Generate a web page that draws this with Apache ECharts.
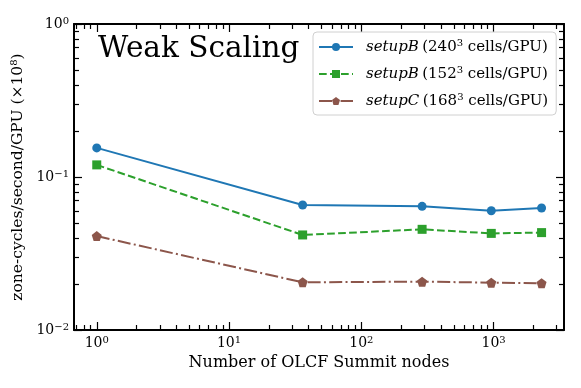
<!DOCTYPE html>
<html>
<head>
<meta charset="utf-8">
<script src="https://cdn.jsdelivr.net/npm/echarts@6/dist/echarts.min.js"></script>
<style>
html, body { margin: 0; padding: 0; background: #fff; }
#main { width: 581px; height: 388px; }
</style>
</head>
<body>
<div id="main"></div>
<script>
// data
var nodes = [1, 36, 288, 960, 2304];
var setupB240 = [0.155, 0.0656, 0.0643, 0.0602, 0.0627];
var setupB152 = [0.120, 0.0418, 0.0455, 0.0428, 0.0433];
var setupC168 = [0.0411, 0.0205, 0.0207, 0.0204, 0.0202];

var xMajor = [1, 10, 100, 1000];
var xMinor = [0.7, 0.8, 0.9, 2, 3, 4, 5, 6, 7, 8, 9, 20, 30, 40, 50, 60, 70, 80, 90,
              200, 300, 400, 500, 600, 700, 800, 900, 2000, 3000];
var yMajor = [0.01, 0.1, 1];
var yMinor = [0.02, 0.03, 0.04, 0.05, 0.06, 0.07, 0.08, 0.09,
              0.2, 0.3, 0.4, 0.5, 0.6, 0.7, 0.8, 0.9];

var serif = 'DejaVu Serif';
var pentagon = 'path://M0,-1L0.951,-0.309L0.588,0.809L-0.588,0.809L-0.951,-0.309Z';

var chart = echarts.init(document.getElementById('main'));

// 10^n labels with superscript exponent
function powLabel(v) {
    var e = Math.round(Math.log10(v));
    return '{b|10}{s|' + (e < 0 ? '\u2212' + (-e) : e) + '}';
}
var labelRich = {
    b: { fontFamily: serif, fontSize: 14, color: '#000' },
    s: { fontFamily: serif, fontSize: 10, color: '#000', verticalAlign: 'top', padding: [0, 0, 6, 0] }
};

// one axis per side and per tick kind (major / minor), all log scale
function axisBase(pos, min, max, major, minor, isMinor, withLabels) {
    return {
        type: 'log',
        logBase: 10,
        position: pos,
        min: min,
        max: max,
        splitLine: { show: false },
        axisLine: { show: !isMinor, onZero: false, lineStyle: { color: '#000', width: 2 } },
        axisTick: {
            show: true,
            inside: true,
            length: isMinor ? 5 : 8,
            customValues: isMinor ? minor : major,
            lineStyle: { color: '#000', width: 1.2 }
        },
        axisLabel: {
            show: withLabels,
            customValues: major,
            formatter: powLabel,
            rich: labelRich,
            margin: 5
        }
    };
}

var xMin = 0.673, xMax = 3404, yMin = 0.01, yMax = 1;
var xAxes = [
    axisBase('bottom', xMin, xMax, xMajor, xMinor, false, true),
    axisBase('bottom', xMin, xMax, xMajor, xMinor, true, false),
    axisBase('top', xMin, xMax, xMajor, xMinor, false, false),
    axisBase('top', xMin, xMax, xMajor, xMinor, true, false)
];
xAxes[0].name = 'Number of OLCF Summit nodes';
xAxes[0].nameLocation = 'middle';
xAxes[0].nameGap = 20;
xAxes[0].nameTextStyle = { fontFamily: serif, fontSize: 16, color: '#000' };

var yAxes = [
    axisBase('left', yMin, yMax, yMajor, yMinor, false, true),
    axisBase('left', yMin, yMax, yMajor, yMinor, true, false),
    axisBase('right', yMin, yMax, yMajor, yMinor, false, false),
    axisBase('right', yMin, yMax, yMajor, yMinor, true, false)
];
yAxes[0].name = '{a|zone-cycles/second/GPU (\u00d710}{s|8}{a|)}';
yAxes[0].nameLocation = 'middle';
yAxes[0].nameGap = 40;
yAxes[0].nameRotate = 90;
yAxes[0].nameTextStyle = {
    rich: {
        a: { fontFamily: serif, fontSize: 15.5, color: '#000' },
        s: { fontFamily: serif, fontSize: 10, color: '#000', verticalAlign: 'top', padding: [0, 0, 6, 0] }
    }
};

function mkSeries(name, data, color, symbol, size, dash) {
    return {
        name: name,
        type: 'line',
        xAxisIndex: 0,
        yAxisIndex: 0,
        data: nodes.map(function (n, i) { return [n, data[i]]; }),
        symbol: symbol,
        symbolSize: size,
        showSymbol: true,
        itemStyle: { color: color },
        lineStyle: { color: color, width: 2, type: dash },
        animation: false
    };
}

var legendRich = {
    i: { fontFamily: serif, fontStyle: 'italic', fontSize: 15, color: '#000', lineHeight: 18 },
    n: { fontFamily: serif, fontSize: 15, color: '#000', lineHeight: 18 },
    sup: { fontFamily: serif, fontSize: 10, color: '#000', verticalAlign: 'top', padding: [0, 0, 6, 0] },
    c: { fontFamily: serif, fontSize: 15, color: '#000', lineHeight: 18 }
};
var legendText = {
    'B240': '{i|setupB} {n|(240}{sup|3}{c| cells/GPU)}',
    'B152': '{i|setupB} {n|(152}{sup|3}{c| cells/GPU)}',
    'C168': '{i|setupC} {n|(168}{sup|3}{c| cells/GPU)}'
};

chart.setOption({
    backgroundColor: '#fff',
    animation: false,
    title: {
        text: 'Weak Scaling',
        left: 93,
        top: 29,
        textStyle: { fontFamily: serif, fontSize: 29.5, fontWeight: 'normal', color: '#000' }
    },
    grid: { left: 74, right: 17, top: 24, bottom: 58 },
    legend: {
        orient: 'vertical',
        left: 313,
        top: 32,
        padding: [6, 8, 5, 5],
        itemWidth: 34,
        itemHeight: 10,
        itemGap: 9,
        backgroundColor: 'rgba(255,255,255,0.8)',
        borderColor: '#d0d0d0',
        borderWidth: 1,
        borderRadius: 4,
        data: ['B240', 'B152', 'C168'],
        formatter: function (n) { return legendText[n]; },
        textStyle: { rich: legendRich, padding: [0, 0, 0, 8], lineHeight: 18 }
    },
    xAxis: xAxes,
    yAxis: yAxes,
    series: [
        mkSeries('B240', setupB240, '#1f77b4', 'circle', 9, 'solid'),
        mkSeries('B152', setupB152, '#2ca02c', 'rect', 9, [7.7, 3.3]),
        mkSeries('C168', setupC168, '#8c564b', pentagon, 10, [13, 3.3, 2, 3.3])
    ]
});
</script>
</body>
</html>
